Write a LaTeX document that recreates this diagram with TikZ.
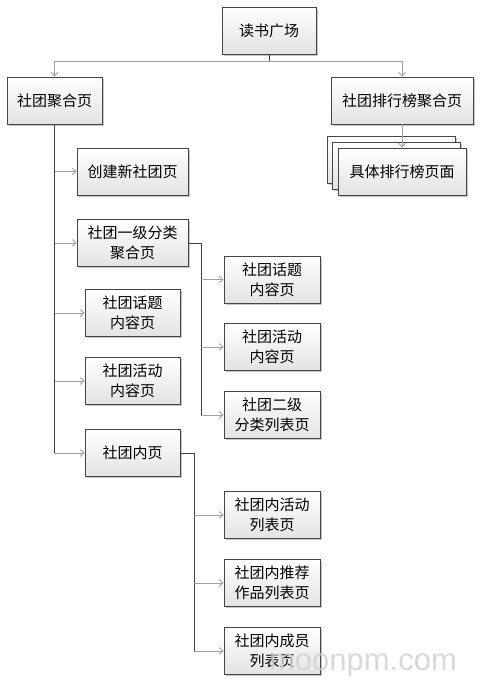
\documentclass[tikz,border=0pt]{standalone}
\usepackage{fontspec}
\setmainfont{Noto Sans CJK SC}
\newfontfamily\markfont{Liberation Sans}
\usetikzlibrary{arrows.meta,shadows}

\begin{document}
\begin{tikzpicture}[
    x=1pt, y=-1pt,
    box/.style={draw=gray!55!black, line width=0.7pt, top color=white, bottom color=gray!22,
      drop shadow={shadow xshift=1.6pt, shadow yshift=-1.6pt, fill=gray!55, opacity=0.8},
      minimum height=47pt, inner sep=0pt, align=center, font=\fontsize{15}{20}\selectfont},
    trunk/.style={draw=black!75, line width=0.9pt},
    arr/.style={draw=gray!75, line width=0.8pt, -{Straight Barb[length=4pt, width=7pt]}},
]
  \useasboundingbox (0,0) rectangle (484,685);

  \node[box, minimum width=94pt]  (square)  at (269,30.5)  {读书广场};
  \node[box, minimum width=95pt]  (club)    at (54.5,100.5) {社团聚合页};
  \node[box, minimum width=142pt] (rankagg) at (402,100.5) {社团排行榜聚合页};

  \node[box, minimum width=128pt] (stackc) at (391,159.5) {};
  \node[box, minimum width=128pt] (stackb) at (396.5,165.5) {};
  \node[box, minimum width=128pt] (rank)   at (402,171.5) {具体排行榜页面};

  \node[box, minimum width=111pt] (create) at (132.5,171.5) {创建新社团页};
  \node[box, minimum width=111pt] (cat1)   at (132.5,243)   {社团一级分类\\聚合页};
  \node[box, minimum width=95pt]  (topic)  at (132.5,313)   {社团话题\\内容页};
  \node[box, minimum width=95pt]  (event)  at (132.5,381)   {社团活动\\内容页};
  \node[box, minimum width=95pt]  (inner)  at (132.5,453)   {社团内页};

  \node[box, minimum width=96pt] (topicb)  at (272,279.5) {社团话题\\内容页};
  \node[box, minimum width=96pt] (eventb)  at (272,347)   {社团活动\\内容页};
  \node[box, minimum width=96pt] (cat2)    at (272,415)   {社团二级\\分类列表页};

  \node[box, minimum width=96pt] (inevent) at (272,515) {社团内活动\\列表页};
  \node[box, minimum width=96pt] (inwork)  at (272,583) {社团内推荐\\作品列表页};
  \node[box, minimum width=96pt] (inmember) at (272,651) {社团内成员\\列表页};

  \coordinate (split)    at (269,61);
  \coordinate (catbus)   at (201,0);
  \coordinate (innerbus) at (194,0);

  \draw[trunk] (square.south) -- (split);
  \draw[arr] (split) -| (club.north);
  \draw[arr] (split) -| (rankagg.north);
  \draw[arr] (rankagg.south) -- (rank.north);

  \draw[trunk] (club.south) -- (club.south |- inner.west);
  \foreach \n in {create,cat1,topic,event,inner}
    \draw[arr] (club.south |- \n.west) -- (\n.west);

  \draw[trunk] (cat1.east) -- (catbus |- cat1.east) -- (catbus |- cat2.west);
  \foreach \n in {topicb,eventb,cat2}
    \draw[arr] (catbus |- \n.west) -- (\n.west);

  \draw[trunk] (inner.east) -- (innerbus |- inner.east) -- (innerbus |- inmember.west);
  \foreach \n in {inevent,inwork,inmember}
    \draw[arr] (innerbus |- \n.west) -- (\n.west);

  \node[anchor=base, text=gray!35, opacity=0.85, font=\markfont\fontsize{31}{31}\selectfont]
    (mark) at (363,670) {moonpm.com};
\end{tikzpicture}
\end{document}
